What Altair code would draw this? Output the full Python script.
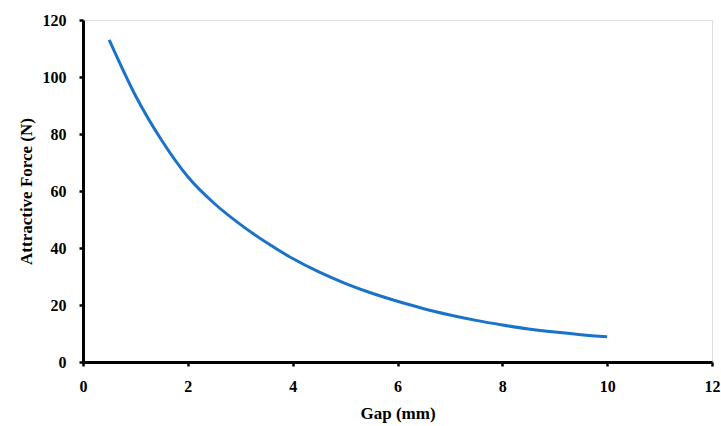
import altair as alt
import pandas as pd

gap_mm = [0.5, 1.0, 1.5, 2.0, 2.5, 3.0, 3.5, 4.0, 4.5, 5.0, 5.5, 6.0, 6.5, 7.0, 7.5, 8.0, 8.5, 9.0, 9.5, 10.0]
force_n = [113, 93.5, 77.8, 65.0, 55.7, 48.3, 41.9, 36.3, 31.6, 27.6, 24.2, 21.3, 18.7, 16.5, 14.6, 13.0, 11.6, 10.5, 9.6, 8.9]

df = pd.DataFrame({"gap": gap_mm, "force": force_n})

FONT = "Liberation Serif"

axis_style = dict(grid=False, domainWidth=3, domainColor="black", labelFlush=False, labelOverlap=False,
                  tickColor="black", tickWidth=2.5, tickSize=4,
                  labelFont=FONT, labelFontSize=16, labelFontWeight="bold", labelColor="black",
                  titleFont=FONT, titleFontSize=17, titleFontWeight="bold", titleColor="black")

chart = alt.Chart(df).mark_line(color="#1a73c9", strokeWidth=3, interpolate="monotone").encode(
    x=alt.X("gap:Q", title="Gap (mm)", scale=alt.Scale(domain=[0, 12], nice=False),
            axis=alt.Axis(values=[0, 2, 4, 6, 8, 10, 12], labelPadding=12, titlePadding=11, **axis_style)),
    y=alt.Y("force:Q", title="Attractive Force (N)", scale=alt.Scale(domain=[0, 120], nice=False),
            axis=alt.Axis(values=[0, 20, 40, 60, 80, 100, 120], labelPadding=13, titlePadding=7,
                          labelAlign="right", **axis_style)),
).properties(
    width=629, height=342,
    autosize=alt.AutoSizeParams(type="none"),
    padding={"left": 83, "top": 20, "right": 9, "bottom": 64},
).configure_view(stroke="black", strokeWidth=2).configure(background="white")

chart.save("out.html", embed_options={"renderer": "svg", "actions": False})
